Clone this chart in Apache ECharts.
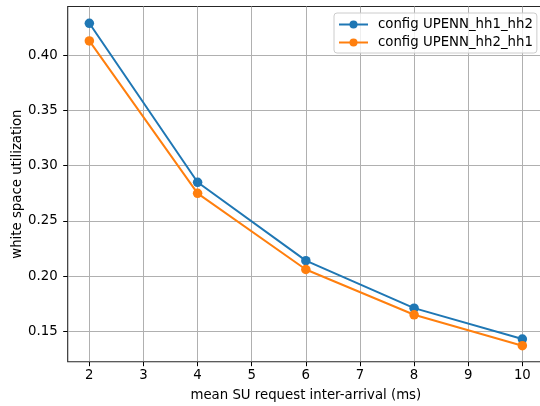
<!DOCTYPE html>
<html><head><meta charset="utf-8">
<script src="https://cdn.jsdelivr.net/npm/echarts@6/dist/echarts.min.js"></script>
<style>html,body{margin:0;padding:0;background:#fff}#c{width:540px;height:406px}</style>
</head><body><div id="c"></div>
<script>
const xValues = [2, 4, 6, 8, 10];
const seriesNames = ['config UPENN_hh1_hh2', 'config UPENN_hh2_hh1'];
const hh1hh2 = [0.429, 0.285, 0.214, 0.171, 0.143];
const hh2hh1 = [0.413, 0.275, 0.206, 0.165, 0.137];
const xTicks = [2, 3, 4, 5, 6, 7, 8, 9, 10];
const yTicks = [0.15, 0.20, 0.25, 0.30, 0.35, 0.40];

const font = 'DejaVu Sans';
const fs = 13.3;
const chart = echarts.init(document.getElementById('c'), null, {renderer: 'canvas'});
function pairs(vals) { return xValues.map((x, i) => [x, vals[i]]); }
chart.setOption({
  animation: false,
  textStyle: {fontFamily: font},
  grid: {left: 67.7, top: 6.5, width: 476.3, height: 355.2, show: true, borderColor: '#262626', borderWidth: 1.1,
         containLabel: false, outerBoundsMode: 'none'},
  legend: {
    left: 334, top: 13, orient: 'vertical', itemWidth: 29, itemHeight: 10, itemGap: 5,
    padding: [5, 4, 4, 4], backgroundColor: 'rgba(255,255,255,0.8)', borderColor: '#cccccc', borderWidth: 1, borderRadius: 3,
    textStyle: {fontFamily: font, fontSize: fs, color: '#000', padding: [0, 0, 0, 5]},
    data: seriesNames
  },
  xAxis: {
    type: 'value', min: 1.6, max: 10.4,
    name: 'mean SU request inter-arrival (ms)', nameLocation: 'middle', nameGap: 27.5, nameMoveOverlap: false,
    nameTextStyle: {fontFamily: font, fontSize: fs, color: '#000'},
    axisLine: {show: false},
    axisTick: {show: true, length: 4.5, customValues: xTicks, lineStyle: {color: '#000', width: 1}},
    axisLabel: {fontFamily: font, fontSize: fs, color: '#000', margin: 7, customValues: xTicks,
      formatter: v => String(Math.round(v))},
    splitLine: {show: true, customValues: xTicks, lineStyle: {color: '#b0b0b0', width: 1}}
  },
  yAxis: {
    type: 'value', min: 0.1225, max: 0.4442,
    name: 'white space utilization', nameLocation: 'middle', nameGap: 44, nameMoveOverlap: false,
    nameTextStyle: {fontFamily: font, fontSize: fs, color: '#000'},
    axisLine: {show: false},
    axisTick: {show: true, length: 4.5, customValues: yTicks, lineStyle: {color: '#000', width: 1}},
    axisLabel: {fontFamily: font, fontSize: fs, color: '#000', margin: 10, customValues: yTicks,
      formatter: v => v.toFixed(2)},
    splitLine: {show: true, customValues: yTicks, lineStyle: {color: '#b0b0b0', width: 1}}
  },
  series: [
    {name: seriesNames[0], type: 'line', data: pairs(hh1hh2), symbol: 'circle', symbolSize: 9.5,
     itemStyle: {color: '#1f77b4'}, lineStyle: {color: '#1f77b4', width: 2}},
    {name: seriesNames[1], type: 'line', data: pairs(hh2hh1), symbol: 'circle', symbolSize: 9.5,
     itemStyle: {color: '#ff7f0e'}, lineStyle: {color: '#ff7f0e', width: 2}}
  ]
});
</script></body></html>
